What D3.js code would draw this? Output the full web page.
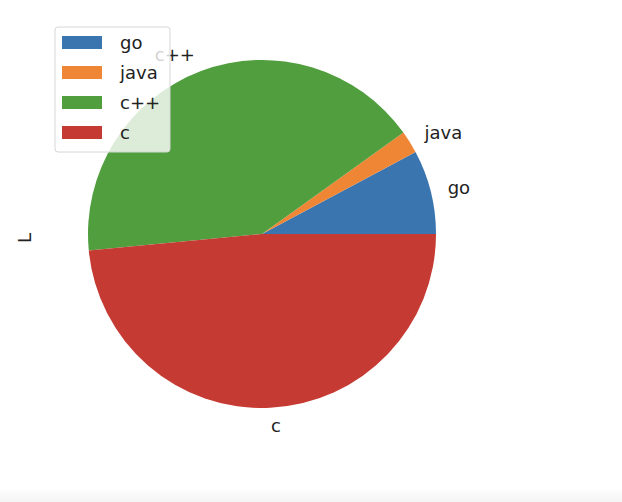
<!DOCTYPE html>
<html lang="en">
<head>
    <meta charset="UTF-8">
    <title>pie</title>
    <script src="https://d3js.org/d3.v7.min.js"></script>
    <style>
        body {
            margin: 0;
            background: #ffffff;
        }
        text {
            font-family: "DejaVu Sans", sans-serif;
            fill: #222;
        }
    </style>
</head>
<body>
    <div id="chart"></div>
    <script>
        // data (percent shares)
        const langs = ["go", "java", "c++", "c"];
        const shares = [7.8, 2.1, 41.6, 48.5];
        const colors = ["#3b75af", "#ef8636", "#519e3e", "#c53a32"];
        const yLabel = "L";

        const W = 622, H = 502;
        const cx = 262, cy = 234, radius = 174;

        const svg = d3.select("#chart").append("svg")
            .attr("width", W)
            .attr("height", H);

        // faint grey strip along the bottom edge
        const grad = svg.append("defs").append("linearGradient")
            .attr("id", "fade")
            .attr("x1", 0).attr("y1", 0).attr("x2", 0).attr("y2", 1);
        grad.append("stop").attr("offset", "0%").attr("stop-color", "#ffffff");
        grad.append("stop").attr("offset", "100%").attr("stop-color", "#f4f4f4");
        svg.append("rect")
            .attr("x", 0).attr("y", 488)
            .attr("width", W).attr("height", 14)
            .attr("fill", "url(#fade)");

        const color = d3.scaleOrdinal().domain(langs).range(colors);

        // matplotlib style: start at 3 o'clock, go counter-clockwise
        const pie = d3.pie()
            .sort(null)
            .value(d => d.v)
            .startAngle(Math.PI / 2)
            .endAngle(Math.PI / 2 - 2 * Math.PI);

        const arcs = pie(langs.map((k, i) => ({k: k, v: shares[i]})));
        const arc = d3.arc().innerRadius(0).outerRadius(radius);

        const g = svg.append("g").attr("transform", `translate(${cx},${cy})`);

        g.selectAll("path")
            .data(arcs)
            .enter().append("path")
            .attr("d", arc)
            .attr("fill", d => color(d.data.k));

        // slice labels at 1.1 * radius
        g.selectAll("text.lbl")
            .data(arcs)
            .enter().append("text")
            .attr("class", "lbl")
            .each(function(d) {
                const a = (d.startAngle + d.endAngle) / 2;
                const x = 1.1 * radius * Math.sin(a);
                const y = -1.1 * radius * Math.cos(a);
                d3.select(this)
                    .attr("x", x)
                    .attr("y", y)
                    .attr("text-anchor", x > 0 ? "start" : "end");
            })
            .attr("dominant-baseline", "central")
            .style("font-size", "18px")
            .text(d => d.data.k);

        // y axis label
        svg.append("text")
            .attr("transform", "translate(31,238) rotate(-90)")
            .attr("text-anchor", "middle")
            .style("font-size", "18px")
            .text(yLabel);

        // legend
        const leg = svg.append("g").attr("transform", "translate(55,27)");
        leg.append("rect")
            .attr("width", 115)
            .attr("height", 125)
            .attr("rx", 3)
            .attr("fill", "#ffffff")
            .attr("fill-opacity", 0.8)
            .attr("stroke", "#d6d6d6")
            .attr("stroke-width", 1);

        const item = leg.selectAll("g.item")
            .data(langs)
            .enter().append("g")
            .attr("class", "item")
            .attr("transform", (d, i) => `translate(0,${15.5 + i * 30})`);

        item.append("rect")
            .attr("x", 7)
            .attr("y", -6.5)
            .attr("width", 40)
            .attr("height", 13)
            .attr("fill", d => color(d));

        item.append("text")
            .attr("x", 65)
            .attr("y", 0)
            .attr("dominant-baseline", "central")
            .style("font-size", "18px")
            .text(d => d);
    </script>
</body>
</html>
